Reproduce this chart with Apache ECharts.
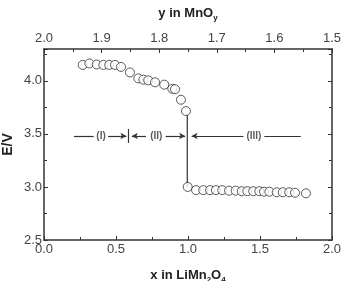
<!DOCTYPE html>
<html><head><meta charset="utf-8">
<script src="https://cdn.jsdelivr.net/npm/echarts@6/dist/echarts.min.js"></script>
<style>html,body{margin:0;padding:0;background:#fff}#c{width:343px;height:281px}</style>
</head><body><div id="c"></div>
<script>
// Data (x in LiMn2O4, E in V)
var upperX = [0.269,0.315,0.366,0.412,0.453,0.493,0.535,0.597,0.655,0.690,0.724,0.771,0.835,0.891,0.910,0.951,0.986];
var upperE = [4.150,4.164,4.154,4.150,4.150,4.150,4.131,4.079,4.023,4.011,4.005,3.986,3.964,3.925,3.921,3.822,3.715];
var lowerX = [0.998,1.056,1.106,1.153,1.194,1.238,1.285,1.331,1.373,1.412,1.453,1.495,1.528,1.565,1.616,1.658,1.703,1.743,1.819];
var lowerE = [3.00,2.97,2.97,2.97,2.97,2.97,2.965,2.965,2.96,2.96,2.96,2.96,2.955,2.955,2.95,2.95,2.95,2.945,2.94];
var stepX = [0.995,0.995];
var stepE = [3.68,3.0];
var regionLabels = ['(I)','(II)','(III)'];
var regionLabelX = [0.396,0.78,1.458];
var regionY = 3.48;
// arrow segments: [x start, x end, arrow at end?]
var segStart = [0.208,0.445,0.708,0.845,1.385,1.53];
var segEnd   = [0.345,0.572,0.61,0.98,1.025,1.783];
var segArrow = [false,true,true,true,true,false];
var barX = 0.585, barE = [3.415,3.545];
var bottomTicks = [0.0,0.5,1.0,1.5,2.0];
var topTicks = [2.0,1.9,1.8,1.7,1.6,1.5];
var leftTicks = [2.5,3.0,3.5,4.0];

var AX = '#333', LB = '#444', FF = 'Liberation Sans, Arial, sans-serif';
function pts(xs, ys){ return xs.map(function(x,i){return [x, ys[i]];}); }

var markData = segStart.map(function(s,i){
  return [{coord:[s,regionY], symbol:'none'},
          {coord:[segEnd[i],regionY], symbol: segArrow[i] ? 'arrow' : 'none', symbolSize:[5,6]}];
});
markData.push([{coord:[barX,barE[0]],symbol:'none'},{coord:[barX,barE[1]],symbol:'none'}]);

var chart = echarts.init(document.getElementById('c'), null, {renderer:'canvas'});
chart.setOption({
  animation:false,
  backgroundColor:'#fff',
  grid:{left:44,right:11,top:49,bottom:41,containLabel:false,outerBoundsMode:'none'},
  xAxis:[{
    type:'value', min:0, max:2, interval:0.5, position:'bottom',
    name:'x in LiMn{s|2}O{s|4}', nameLocation:'middle', nameGap:27,
    nameTextStyle:{fontFamily:FF,fontSize:13,fontWeight:'bold',color:'#222',
      rich:{s:{fontSize:8,fontWeight:'bold',verticalAlign:'bottom',padding:[9,0,0,0],fontFamily:FF,color:'#222'}}},
    axisLine:{lineStyle:{color:AX,width:1.5}},
    axisTick:{inside:true,length:4,lineStyle:{color:AX}},
    minorTick:{show:true,splitNumber:2,length:3,lineStyle:{color:AX}},
    splitLine:{show:false},
    axisLabel:{fontFamily:FF,fontSize:13,color:LB,margin:3,formatter:function(v){return v.toFixed(1);}}
  },{
    type:'value', min:1.5, max:2.0, interval:0.1, inverse:true, position:'top',
    name:'y in MnO{s|y}', nameLocation:'middle', nameGap:27,
    nameTextStyle:{fontFamily:FF,fontSize:13,fontWeight:'bold',color:'#222',
      rich:{s:{fontSize:8,fontWeight:'bold',padding:[10,0,0,0],fontFamily:FF,color:'#222'}}},
    axisLine:{lineStyle:{color:AX,width:1.5}},
    axisTick:{inside:true,length:4,lineStyle:{color:AX}},
    minorTick:{show:true,splitNumber:2,length:3,lineStyle:{color:AX}},
    splitLine:{show:false},
    axisLabel:{fontFamily:FF,fontSize:13,color:LB,margin:4,formatter:function(v){return v.toFixed(1);}}
  }],
  yAxis:[{
    type:'value', min:2.5, max:4.3, interval:0.5, position:'left',
    name:'E/V', nameLocation:'middle', nameGap:29, nameRotate:90, nameMoveOverlap:false,
    nameTextStyle:{fontFamily:FF,fontSize:14,fontWeight:'bold',color:'#222'},
    axisLine:{show:true,lineStyle:{color:AX,width:1.5}},
    axisTick:{inside:true,length:4,lineStyle:{color:AX}},
    minorTick:{show:true,splitNumber:2,length:3,lineStyle:{color:AX}},
    splitLine:{show:false},
    axisLabel:{fontFamily:FF,fontSize:13,color:LB,margin:2,showMaxLabel:false,
      formatter:function(v){return v.toFixed(1);}}
  },{
    type:'value', min:2.5, max:4.3, interval:0.5, position:'right',
    axisLine:{show:true,lineStyle:{color:AX,width:1.5}},
    axisTick:{inside:true,length:4,lineStyle:{color:AX}},
    minorTick:{show:true,splitNumber:2,length:3,lineStyle:{color:AX}},
    splitLine:{show:false},
    axisLabel:{show:false}
  }],
  series:[
    {type:'line', xAxisIndex:0, yAxisIndex:0, data:pts(stepX,stepE), symbol:'none',
     lineStyle:{color:'#333',width:1.2}, z:1},
    {type:'line', xAxisIndex:0, yAxisIndex:0, data:[], symbol:'none',
     markLine:{silent:true, animation:false, label:{show:false},
       lineStyle:{color:'#333',width:1.2,type:'solid'}, data:markData}},
    {type:'scatter', xAxisIndex:0, yAxisIndex:0, data:regionLabelX.map(function(x,i){return {value:[x,regionY],name:regionLabels[i]};}),
     symbolSize:0, label:{show:true,position:'inside',formatter:'{b}',fontFamily:FF,fontSize:10,fontWeight:'bold',color:'#333'}},
    {type:'scatter', xAxisIndex:0, yAxisIndex:0, data:pts(upperX,upperE).concat(pts(lowerX,lowerE)),
     symbol:'circle', symbolSize:9, itemStyle:{color:'#fff',borderColor:'#333',borderWidth:1}, z:3}
  ]
});
</script></body></html>
